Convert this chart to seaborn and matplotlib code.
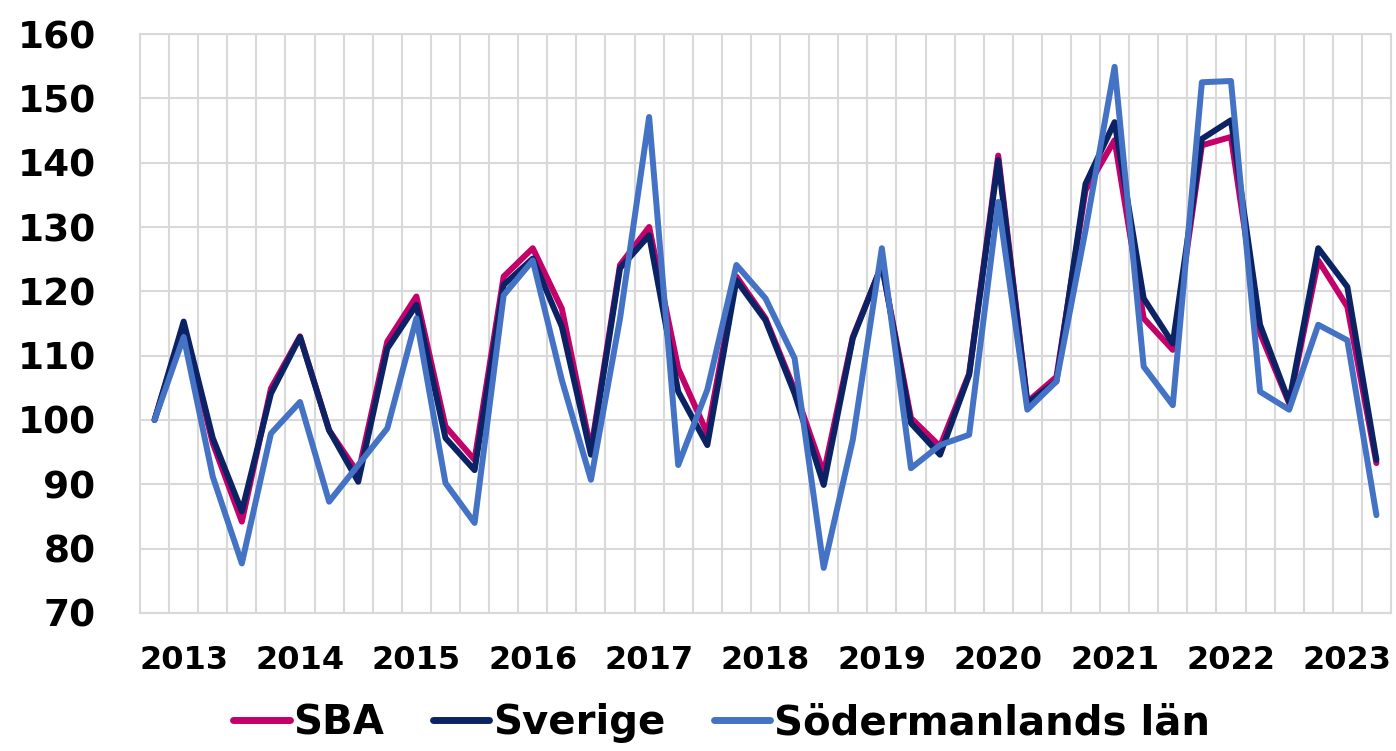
import numpy as np
import pandas as pd
import matplotlib
matplotlib.use("Agg")
import matplotlib.pyplot as plt
import seaborn as sns

# quarterly index, 2013 Q1 = 100, through 2023 Q3
years = list(range(2013, 2024))
quarters = [f"{y}Q{q}" for y in years for q in range(1, 5)][:43]

sba = [100, 114.8, 96.4, 84.2, 104.9, 113.0, 98.4, 91.7, 112.2, 119.2,
       99.0, 93.8, 122.3, 126.7, 117.3, 95.3, 124.1, 130.0, 108.0, 97.9,
       122.3, 115.8, 104.7, 91.7, 112.9, 124.1, 100.3, 95.9, 107.2, 141.1,
       102.8, 106.7, 135.7, 143.5, 115.8, 110.9, 142.7, 144.0, 113.5, 102.6,
       124.8, 117.6, 93.3]
sverige = [100, 115.3, 97.2, 85.8, 104.1, 112.9, 98.4, 90.4, 111.1, 117.9,
           97.2, 92.2, 121.0, 125.1, 114.5, 94.6, 123.6, 128.7, 104.4, 96.1,
           121.7, 115.5, 104.1, 89.9, 112.7, 124.1, 99.5, 94.6, 107.0, 140.4,
           102.6, 106.0, 136.7, 146.3, 118.9, 111.9, 143.7, 146.6, 114.8, 102.8,
           126.7, 120.7, 93.8]
sodermanland = [100, 112.9, 91.2, 77.7, 97.9, 102.8, 87.3, 93.0, 98.7, 115.8,
                90.2, 84.0, 119.4, 124.8, 106.2, 90.7, 115.8, 147.1, 93.0, 104.7,
                124.1, 118.9, 109.6, 77.0, 96.9, 126.7, 92.5, 96.1, 97.7, 133.9,
                101.6, 106.0, 129.5, 154.9, 108.3, 102.3, 152.5, 152.7, 104.4, 101.6,
                114.8, 112.4, 85.2]

series_names = ["SBA", "Sverige", "Södermanlands län"]
colors = ["#C4006A", "#0B2265", "#4472C4"]

df = pd.DataFrame({
    "pos": list(range(len(quarters))) * 3,
    "value": sba + sverige + sodermanland,
    "serie": [s for s in series_names for _ in quarters],
})

sns.set_style("white")
plt.rcParams["font.family"] = ["DejaVu Sans"]
plt.rcParams["font.weight"] = "bold"
plt.rcParams["text.color"] = "black"
plt.rcParams["xtick.color"] = "black"
plt.rcParams["ytick.color"] = "black"

fig = plt.figure(figsize=(13.96, 7.51), dpi=100)
ax = fig.add_axes([0.1003, 0.1838, 0.8961, 0.7709])

sns.lineplot(data=df, x="pos", y="value", hue="serie", hue_order=series_names,
             palette=colors, linewidth=4.3, ax=ax, legend=True)

ax.set_xlim(-0.5, len(quarters) - 0.5)
ax.set_ylim(70, 160)
ax.set_yticks(np.arange(70, 161, 10))
ax.set_xticks([1 + 4 * k for k in range(len(years))])
ax.set_xticklabels([str(y) for y in years])
ax.set_xticks(np.arange(-0.5, len(quarters), 1), minor=True)

ax.grid(axis="y", which="major", color="#D9D9D9", linewidth=1.5)
ax.grid(axis="x", which="minor", color="#D9D9D9", linewidth=1.5)
ax.grid(axis="x", which="major", visible=False)
ax.set_axisbelow(True)
for sp in ax.spines.values():
    sp.set_color("#D9D9D9")
    sp.set_linewidth(1.5)

ax.tick_params(axis="y", length=0, pad=32, labelsize=27, labelcolor="black")
ax.tick_params(axis="x", which="both", length=0, pad=23, labelsize=23, labelcolor="black")
for lab in ax.get_yticklabels() + ax.get_xticklabels():
    lab.set_fontweight("heavy")
ax.set_xlabel("")
ax.set_ylabel("")

handles, labels = ax.get_legend_handles_labels()
ax.legend_.remove()
leg = fig.legend(handles, labels, loc="center", bbox_to_anchor=(0.517, 0.037),
                 ncol=3, frameon=False, fontsize=29, handlelength=1.4,
                 handletextpad=0.1, columnspacing=1.2)
for t in leg.get_texts():
    t.set_fontweight("bold")
    t.set_color("black")
for h in leg.get_lines():
    h.set_linewidth(5)
    h.set_solid_capstyle("round")

fig.savefig("out.png", dpi=100)
